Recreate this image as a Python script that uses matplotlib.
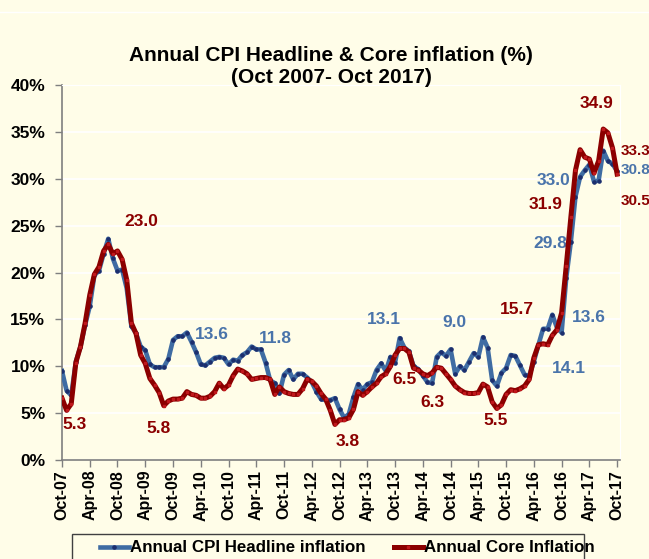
import matplotlib
matplotlib.use('Agg')
from matplotlib import pyplot as plt
from matplotlib.lines import Line2D
from matplotlib.patches import Rectangle

plt.rcParams['font.family'] = ['Liberation Sans', 'DejaVu Sans']
plt.rcParams['font.weight'] = 'bold'

# monthly values, Oct 2007 .. Oct 2017
headline = [9.5, 7.4, 6.9, 10.5, 12.1, 14.4, 16.4, 19.7, 20.2, 22.0,
            23.6, 21.5, 20.2, 20.3, 18.3, 14.3, 13.5, 12.1, 11.7, 10.2,
            9.9, 9.9, 9.9, 10.8, 12.8, 13.2, 13.2, 13.6, 12.6, 11.5,
            10.2, 10.1, 10.5, 10.9, 11.0, 10.9, 10.2, 10.7, 10.6, 11.2,
            11.5, 12.1, 11.8, 11.8, 10.4, 8.5, 8.2, 7.1, 9.1, 9.6,
            8.6, 9.2, 9.2, 8.8, 8.3, 7.3, 6.5, 6.4, 6.4, 6.6,
            5.4, 4.5, 4.9, 6.7, 8.1, 7.5, 8.1, 8.3, 9.6, 10.3,
            9.5, 11.0, 10.4, 13.0, 12.0, 11.6, 10.0, 9.7, 9.0, 8.3,
            8.2, 11.0, 11.5, 11.1, 11.8, 9.2, 10.0, 9.6, 10.5, 11.4,
            11.0, 13.1, 12.0, 8.5, 7.9, 9.3, 9.8, 11.2, 11.1, 10.1,
            9.1, 9.0, 10.5, 12.3, 14.0, 14.0, 15.5, 14.1, 13.6, 19.4,
            23.3, 28.1, 30.2, 30.9, 31.5, 29.7, 29.8, 33.0, 31.9, 31.6,
            30.8]
core = [6.6, 5.3, 6.0, 10.4, 12.1, 14.6, 17.6, 19.8, 20.6, 22.3,
        23.0, 22.0, 22.3, 21.4, 19.2, 14.6, 13.5, 11.2, 10.3, 8.7,
        8.0, 7.2, 5.8, 6.3, 6.5, 6.5, 6.6, 7.3, 7.0, 6.9,
        6.6, 6.6, 6.8, 7.3, 8.2, 7.6, 8.0, 9.0, 9.7, 9.5,
        9.2, 8.6, 8.7, 8.8, 8.8, 8.6, 7.0, 7.8, 7.3, 7.1,
        7.0, 7.0, 7.6, 8.6, 8.4, 7.9, 7.1, 6.5, 5.3, 3.8,
        4.3, 4.3, 4.5, 5.4, 7.3, 6.9, 7.3, 7.8, 8.2, 8.9,
        9.2, 10.0, 11.2, 11.9, 11.9, 11.5, 9.8, 9.6, 9.2, 9.0,
        9.3, 9.9, 9.8, 9.2, 8.6, 7.9, 7.5, 7.2, 7.1, 7.1,
        7.2, 8.1, 7.8, 6.2, 5.5, 5.9, 7.0, 7.5, 7.4, 7.6,
        7.9, 8.6, 10.9, 12.3, 12.4, 12.3, 13.3, 13.9, 15.7, 20.7,
        25.9, 30.9, 33.1, 32.3, 32.1, 30.6, 31.9, 35.3, 34.9, 33.3,
        30.5]
tick_labels = ['Oct-07', 'Apr-08', 'Oct-08', 'Apr-09', 'Oct-09', 'Apr-10', 'Oct-10',
               'Apr-11', 'Oct-11', 'Apr-12', 'Oct-12', 'Apr-13', 'Oct-13', 'Apr-14',
               'Oct-14', 'Apr-15', 'Oct-15', 'Apr-16', 'Oct-16', 'Apr-17', 'Oct-17']

# data labels: (text, month index of left edge, value at text centre)
blue_labels = [('13.6', 28.7, 13.4), ('11.8', 42.5, 13.0), ('13.1', 66.0, 15.0),
               ('9.0', 82.2, 14.7), ('14.1', 105.8, 9.8), ('13.6', 110.3, 15.2),
               ('29.8', 101.8, 23.1), ('33.0', 102.6, 29.8)]
red_labels = [('23.0', 13.4, 25.4), ('5.3', 0.0, 3.8), ('5.8', 18.2, 3.4),
              ('3.8', 59.2, 2.0), ('6.5', 71.4, 8.6), ('6.3', 77.4, 6.1),
              ('5.5', 91.0, 4.2), ('15.7', 94.7, 16.1), ('31.9', 100.8, 27.2),
              ('34.9', 111.8, 38.0)]
edge_blue = [('30.8', 30.9)]
edge_red = [('33.3', 33.0), ('30.5', 27.6)]

bg = '#fffde8'
blue = '#3f6ca3'
red = '#8b0000'

fig = plt.figure(figsize=(6.49, 5.59), dpi=100, facecolor=bg)
ax = fig.add_axes([0.0955, 0.177, 0.86, 0.671], facecolor=bg)

x = list(range(len(headline)))
ax.plot(x, headline, color=blue, lw=3.3, marker='o', ms=2.3,
        mfc='#1c2f6e', mec='#1c2f6e', zorder=3)
ax.plot(x, core, color=red, lw=3.6, marker='s', ms=1.9,
        mfc='#c0181c', mec='#c0181c', zorder=4)

for txt, xi, yv in blue_labels:
    ax.text(xi, yv, txt, color='#4a74aa', fontsize=12.5, fontweight='bold',
            ha='left', va='center', clip_on=False)
for txt, xi, yv in red_labels:
    ax.text(xi, yv, txt, color=red, fontsize=12.5, fontweight='bold',
            ha='left', va='center', clip_on=False)
# labels at the right edge, smaller so they stay inside the picture
for txt, yv in edge_blue:
    ax.text(120.7, yv, txt, color='#4a74aa', fontsize=11, fontweight='bold',
            ha='left', va='center', clip_on=False)
for txt, yv in edge_red:
    ax.text(120.7, yv, txt, color=red, fontsize=11, fontweight='bold',
            ha='left', va='center', clip_on=False)

ax.set_xlim(0, 120.65)
ax.set_ylim(0, 40)
ax.set_yticks(range(0, 41, 5))
ax.set_yticklabels([f'{v}%' for v in range(0, 41, 5)], fontsize=12.5, fontweight='bold')
ax.set_xticks(range(0, 121, 6))
ax.set_xticklabels(tick_labels, rotation=90, fontsize=11.5, fontweight='bold')
ax.tick_params(axis='both', direction='out', length=5, width=1, color='#7f7f7f')
ax.tick_params(axis='y', pad=7)
ax.tick_params(axis='x', pad=2)
ax.grid(axis='y', color='white', lw=1.2)
ax.set_axisbelow(True)
for side in ['left', 'bottom']:
    ax.spines[side].set_color('#7f7f7f')
    ax.spines[side].set_linewidth(1.2)
for side in ['top', 'right']:
    ax.spines[side].set_color('white')

fig.text(0.51, 0.901, 'Annual CPI Headline & Core inflation (%)', ha='center', va='center',
         fontsize=15, fontweight='bold')
fig.text(0.51, 0.862, '(Oct 2007- Oct 2017)', ha='center', va='center',
         fontsize=15, fontweight='bold')
fig.add_artist(Line2D([0, 1], [0.978, 0.978], color='white', lw=1))

# legend box runs off the bottom edge, as in the original
fig.add_artist(Rectangle((72 / 649, -0.05), (584 - 72) / 649, 0.05 + 25 / 559,
                         transform=fig.transFigure, facecolor=bg, edgecolor='#404040', lw=1))
handles = [Line2D([], [], color=blue, lw=3.3, marker='o', ms=2.3, mfc='#1c2f6e', mec='#1c2f6e'),
           Line2D([], [], color=red, lw=3.6, marker='s', ms=1.9, mfc='#c0181c', mec='#c0181c')]
fig.legend(handles, ['Annual CPI Headline inflation', 'Annual Core Inflation'],
           loc='center left', bbox_to_anchor=(100 / 649, 11 / 559), ncol=2,
           frameon=False, handlelength=1.7, handletextpad=0.05, columnspacing=1.7,
           borderpad=0, borderaxespad=0, prop={'weight': 'bold', 'size': 12.2})

fig.savefig('out.png', dpi=100, facecolor=bg)
